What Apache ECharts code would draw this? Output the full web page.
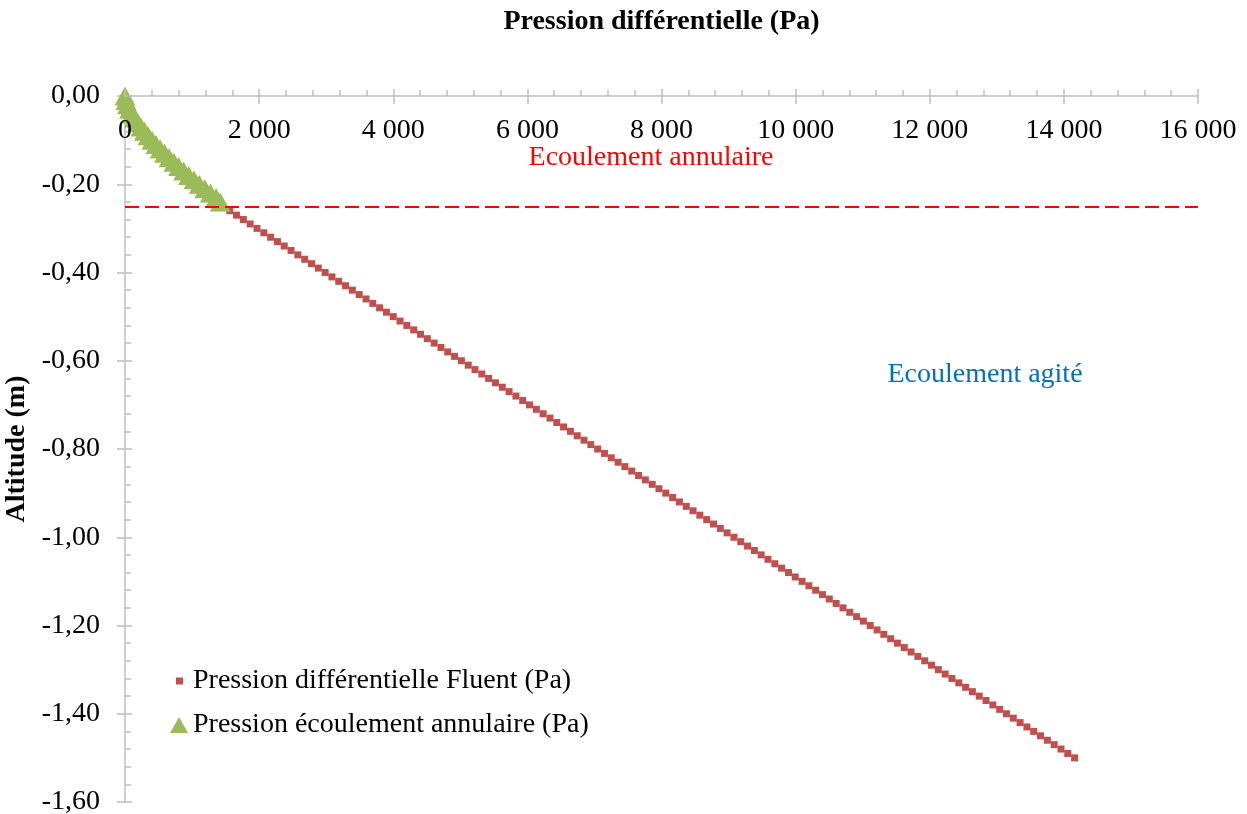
<!DOCTYPE html>
<html>
<head>
<meta charset="utf-8">
<script src="https://cdn.jsdelivr.net/npm/echarts@6/dist/echarts.min.js"></script>
<style>html,body{margin:0;padding:0;background:#fff}#c{width:1247px;height:814px}</style>
</head>
<body>
<div id="c"></div>
<script>
// ---- Data ----
const xTicks = [0, 2000, 4000, 6000, 8000, 10000, 12000, 14000, 16000];
const yTicks = [0, -0.2, -0.4, -0.6, -0.8, -1.0, -1.2, -1.4, -1.6];

// Pression différentielle Fluent (Pa) vs altitude (m)
const fluentAltitude = [
-0.25,-0.26,-0.27,-0.28,-0.29,-0.30,-0.31,-0.32,-0.33,-0.34,-0.35,-0.36,-0.37,-0.38,-0.39,
-0.40,-0.41,-0.42,-0.43,-0.44,-0.45,-0.46,-0.47,-0.48,-0.49,-0.50,-0.51,-0.52,-0.53,-0.54,
-0.55,-0.56,-0.57,-0.58,-0.59,-0.60,-0.61,-0.62,-0.63,-0.64,-0.65,-0.66,-0.67,-0.68,-0.69,
-0.70,-0.71,-0.72,-0.73,-0.74,-0.75,-0.76,-0.77,-0.78,-0.79,-0.80,-0.81,-0.82,-0.83,-0.84,
-0.85,-0.86,-0.87,-0.88,-0.89,-0.90,-0.91,-0.92,-0.93,-0.94,-0.95,-0.96,-0.97,-0.98,-0.99,
-1.00,-1.01,-1.02,-1.03,-1.04,-1.05,-1.06,-1.07,-1.08,-1.09,-1.10,-1.11,-1.12,-1.13,-1.14,
-1.15,-1.16,-1.17,-1.18,-1.19,-1.20,-1.21,-1.22,-1.23,-1.24,-1.25,-1.26,-1.27,-1.28,-1.29,
-1.30,-1.31,-1.32,-1.33,-1.34,-1.35,-1.36,-1.37,-1.38,-1.39,-1.40,-1.41,-1.42,-1.43,-1.44,
-1.45,-1.46,-1.47,-1.48,-1.49,-1.50];
const fluentPressure = [
1460,1562,1663,1765,1866,1968,2070,2171,2273,2374,2476,2578,2679,2781,2882,
2984,3086,3187,3289,3390,3492,3594,3695,3797,3898,4000,4102,4203,4305,4406,
4508,4610,4711,4813,4914,5016,5118,5219,5321,5422,5524,5626,5727,5829,5930,
6032,6134,6235,6337,6438,6540,6642,6743,6845,6946,7048,7150,7251,7353,7454,
7556,7658,7759,7861,7962,8064,8166,8267,8369,8470,8572,8674,8775,8877,8978,
9080,9182,9283,9385,9486,9588,9690,9791,9893,9994,10096,10198,10299,10401,10502,
10604,10706,10807,10909,11010,11112,11214,11315,11417,11518,11620,11722,11823,11925,12026,
12128,12230,12331,12433,12534,12636,12738,12839,12941,13042,13144,13246,13347,13449,13550,
13652,13754,13855,13957,14058,14160];

// Pression écoulement annulaire (Pa) vs altitude (m)
const annularAltitude = [0,-0.01,-0.02,-0.03,-0.04,-0.05,-0.06,-0.07,-0.08,-0.09,-0.10,-0.11,-0.12,
-0.13,-0.14,-0.15,-0.16,-0.17,-0.18,-0.19,-0.20,-0.21,-0.22,-0.23,-0.24];
const annularPressure = [0,14,38,68,104,145,190,238,290,345,402,462,525,
590,658,728,800,874,950,1028,1108,1190,1273,1358,1420];

const transitionAltitude = -0.25;

const seriesNames = ['Pression différentielle Fluent (Pa)', 'Pression écoulement annulaire (Pa)'];
const xAxisName = 'Pression différentielle (Pa)';
const yAxisName = 'Altitude (m)';
const annotations = ['Ecoulement annulaire', 'Ecoulement agité'];

// ---- Chart ----
const FONT = '"Liberation Serif", "Times New Roman", serif';
const FS = 28;
const AX = '#bfbfbf';
const fmtX = v => v === 0 ? '0' : String(v).replace(/\B(?=(\d{3})+(?!\d))/g, ' ');
const fmtY = v => { const s = Math.abs(v) < 1e-9 ? '0.00' : v.toFixed(2); return s.replace('.', ','); };

const chart = echarts.init(document.getElementById('c'), null, {renderer: 'canvas'});
const commonX = {type: 'value', position: 'top', min: xTicks[0], max: xTicks[xTicks.length-1], interval: 2000, splitLine: {show: false}};
const commonY = {type: 'value', position: 'left', min: yTicks[yTicks.length-1], max: yTicks[0], interval: 0.2, splitLine: {show: false}};

chart.setOption({
  animation: false,
  backgroundColor: '#fff',
  grid: {left: 125, right: 49, top: 96, bottom: 12, containLabel: false, outerBoundsMode: 'none'},
  xAxis: [
    Object.assign({}, commonX, {
      z: 5,
      name: xAxisName, nameLocation: 'middle', nameGap: 60,
      nameTextStyle: {fontFamily: FONT, fontSize: FS, fontWeight: 'bold', color: '#000'},
      axisLine: {show: true, lineStyle: {color: AX, width: 1.5}},
      axisTick: {show: true, inside: false, length: 7, lineStyle: {color: AX, width: 1.5}},
      minorTick: {show: true, splitNumber: 5, length: 6, lineStyle: {color: AX, width: 1.5}},
      axisLabel: {inside: true, margin: 21, formatter: fmtX, fontFamily: FONT, fontSize: FS, color: '#000'}
    }),
    Object.assign({}, commonX, {
      axisLine: {show: false},
      axisTick: {show: true, inside: true, length: 8, lineStyle: {color: AX, width: 1.5}},
      axisLabel: {show: false}
    })
  ],
  yAxis: [
    Object.assign({}, commonY, {
      name: yAxisName, nameLocation: 'middle', nameGap: 84, nameRotate: 90,
      nameTextStyle: {fontFamily: FONT, fontSize: FS, fontWeight: 'bold', color: '#000'},
      axisLine: {show: true, onZero: false, lineStyle: {color: AX, width: 1.5}},
      axisTick: {show: true, inside: true, length: 7, lineStyle: {color: AX, width: 1.5}},
      minorTick: {show: true, splitNumber: 5, length: 6, lineStyle: {color: AX, width: 1.5}},
      axisLabel: {margin: 25, formatter: fmtY, fontFamily: FONT, fontSize: FS, color: '#000'}
    }),
    Object.assign({}, commonY, {
      axisLine: {show: false},
      axisTick: {show: true, inside: false, length: 8, lineStyle: {color: AX, width: 1.5}},
      axisLabel: {show: false}
    })
  ],
  legend: [
    {data: [seriesNames[0]], left: 176, top: 667, padding: 0, orient: 'vertical', icon: 'rect',
     itemWidth: 7, itemHeight: 7, itemGap: 0, itemStyle: {opacity: 1},
     textStyle: {fontFamily: FONT, fontSize: FS, color: '#000', padding: [0,0,0,5]}},
    {data: [seriesNames[1]], left: 170, top: 711, padding: 0, orient: 'vertical', icon: 'triangle',
     itemWidth: 18, itemHeight: 16, itemGap: 0, itemStyle: {opacity: 1},
     textStyle: {fontFamily: FONT, fontSize: FS, color: '#000'}}
  ],
  series: [
    {
      name: seriesNames[0], type: 'scatter', xAxisIndex: 0, yAxisIndex: 0,
      symbol: 'rect', symbolSize: 7,
      itemStyle: {color: '#c0504d', opacity: 1},
      data: fluentPressure.map((p, i) => [p, fluentAltitude[i]]),
      markLine: {
        silent: true, symbol: 'none', label: {show: false},
        lineStyle: {color: '#ff0000', type: [14, 6], width: 2, opacity: 1},
        data: [{yAxis: transitionAltitude}]
      },
      z: 2
    },
    {
      name: seriesNames[1], type: 'scatter', xAxisIndex: 0, yAxisIndex: 0,
      symbol: 'triangle', symbolSize: [21, 19],
      itemStyle: {color: '#9bbb59', opacity: 1},
      data: annularPressure.map((p, i) => [p, annularAltitude[i]]),
      z: 3
    }
  ],
  graphic: [
    {type: 'text', x: 651, y: 158, style: {text: annotations[0], fill: '#ff0000', font: FS + 'px ' + FONT, align: 'center', verticalAlign: 'middle'}},
    {type: 'text', x: 985, y: 375, style: {text: annotations[1], fill: '#0070c0', font: FS + 'px ' + FONT, align: 'center', verticalAlign: 'middle'}}
  ]
});
</script>
</body>
</html>
